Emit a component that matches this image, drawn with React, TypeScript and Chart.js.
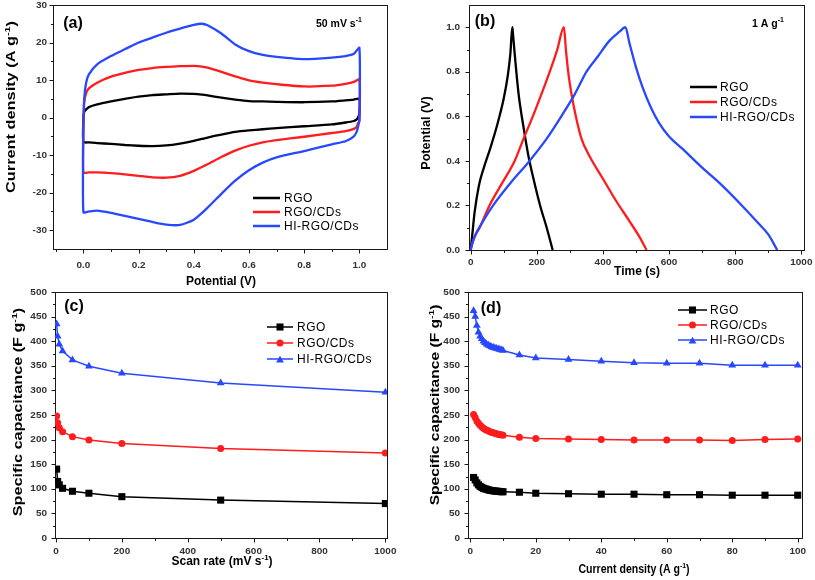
import React, { useEffect, useRef } from 'react';
import { Chart, registerables } from 'chart.js';
Chart.register(...registerables);

const W = 815;
const H = 580;
const FONT = '"Liberation Sans", Arial, Helvetica, sans-serif';
const C_BLACK = '#000000';
const C_RED = '#ff1c1c';
const C_BLUE = '#2848ff';
const seriesNames = ['RGO', 'RGO/CDs', 'HI-RGO/CDs'];

// ---------- (a) CV at 50 mV/s ----------
const cvFwdV = [0, 0.003, 0.01, 0.02, 0.05, 0.1, 0.15, 0.2, 0.25, 0.3, 0.35, 0.4, 0.43, 0.45, 0.5, 0.55, 0.6, 0.65, 0.7, 0.8, 0.9, 0.95, 0.98, 1.0];
const cvRevV = [1.0, 0.995, 0.99, 0.98, 0.95, 0.9, 0.8, 0.7, 0.65, 0.6, 0.55, 0.5, 0.45, 0.4, 0.35, 0.3, 0.25, 0.2, 0.15, 0.1, 0.05, 0.02, 0.0, 0.0];
const cvRgoFwd = [0, 1.5, 2.2, 2.8, 3.5, 4.3, 5, 5.6, 6, 6.2, 6.4, 6.3, 6.1, 5.9, 5.3, 4.8, 4.4, 4.3, 4.2, 4.1, 4.3, 4.6, 4.8, 5];
const cvRgoRev = [1, 0, -0.5, -0.9, -1.3, -1.8, -2.3, -2.8, -3.1, -3.4, -3.8, -4.5, -5.3, -6.2, -6.9, -7.4, -7.6, -7.5, -7.3, -7.0, -6.8, -6.6, -6.5, 0];
const cvRgoCdFwd = [-1.5, 4, 6.5, 7.8, 9.3, 10.9, 11.9, 12.7, 13.2, 13.5, 13.7, 13.8, 13.6, 13.3, 12.2, 11, 9.9, 9.3, 8.9, 8.3, 8.5, 9, 9.5, 10.2];
const cvRgoCdRev = [-1, -1.5, -2.5, -3, -3.6, -4.1, -5.1, -6, -6.6, -7.5, -8.8, -10.5, -12.4, -14.2, -15.5, -16, -15.9, -15.5, -15.1, -14.8, -14.6, -14.6, -14.6, -1.5];
const cvHiFwd = [-2, 4.9, 9.3, 11.5, 14.2, 16.4, 18.2, 20, 21.3, 22.6, 23.7, 24.7, 25, 24.6, 22.4, 19.5, 17.7, 16.7, 16.2, 15.6, 16, 16.4, 17, 18.6];
const cvHiRev = [-0.5, -2.5, -3.8, -5, -6.3, -7.1, -8.9, -10.6, -12, -14, -16.8, -20.3, -24, -27.2, -28.6, -28.5, -27.8, -27, -26.2, -25.4, -24.8, -25, -25.2, -2];

// ---------- (b) GCD at 1 A/g ----------
const gcdRgoT = [0, 5, 12, 25, 40, 60, 80, 100, 112, 120, 126, 128, 135, 145, 160, 175, 190, 210, 230, 248];
const gcdRgoV = [0, 0.07, 0.17, 0.29, 0.37, 0.46, 0.56, 0.68, 0.78, 0.88, 1.0, 0.97, 0.85, 0.7, 0.55, 0.42, 0.32, 0.2, 0.1, 0];
const gcdRgoCdT = [0, 5, 12, 27, 57, 95, 133, 160, 188, 214, 239, 262, 282, 288, 295, 305, 318, 335, 360, 400, 440, 480, 510, 532];
const gcdRgoCdV = [0, 0.03, 0.06, 0.1, 0.2, 0.3, 0.4, 0.5, 0.6, 0.7, 0.8, 0.9, 1.0, 0.9, 0.8, 0.7, 0.6, 0.5, 0.42, 0.32, 0.22, 0.13, 0.06, 0];
const gcdHiT = [0, 5, 15, 30, 68, 120, 178, 230, 274, 315, 350, 385, 420, 450, 468, 480, 500, 520, 545, 570, 600, 640, 700, 760, 820, 870, 900, 927];
const gcdHiV = [0, 0.03, 0.07, 0.11, 0.2, 0.3, 0.4, 0.5, 0.6, 0.7, 0.8, 0.87, 0.94, 0.98, 1.0, 0.93, 0.82, 0.73, 0.64, 0.57, 0.51, 0.455, 0.37, 0.29, 0.2, 0.12, 0.07, 0];

// ---------- (c) capacitance vs scan rate ----------
const scanRates = [2, 5, 10, 20, 50, 100, 200, 500, 1000];
const capRgoScan = [140, 115, 108, 101, 95, 91, 84, 77, 70];
const capRgoCdScan = [248, 234, 224, 216, 206, 199, 192, 182, 173];
const capHiScan = [435, 410, 394, 380, 362, 349, 335, 315, 296];

// ---------- (d) capacitance vs current density ----------
const currentDensities = [1, 1.5, 2, 2.5, 3, 3.5, 4, 4.5, 5, 5.5, 6, 6.5, 7, 7.5, 8, 8.5, 9, 9.5, 10, 15, 20, 30, 40, 50, 60, 70, 80, 90, 100];
const capRgoCur = [123, 118, 112, 108, 105, 103, 101, 100, 99, 98, 97, 96.5, 96, 95.5, 95, 95, 94.5, 94, 94, 93, 91, 90, 89, 89, 88, 88, 87, 87, 87];
const capRgoCdCur = [251, 245, 238, 233, 229, 226, 223, 221, 219, 218, 216, 215, 214, 213, 212, 211, 210, 210, 209, 205, 202, 201, 200, 199, 199, 199, 198, 200, 201];
const capHiCur = [462, 450, 432, 418, 410, 405, 400, 397, 394, 392, 390, 388, 387, 386, 385, 384, 383, 382, 381, 372, 366, 363, 359, 356, 355, 355, 351, 351, 351];

// ---------- tick values ----------
const aXMajor = [0, 0.2, 0.4, 0.6, 0.8, 1.0];
const aXMinor = [-0.1, 0.1, 0.3, 0.5, 0.7, 0.9];
const aYMajor = [-30, -20, -10, 0, 10, 20, 30];
const aYMinor = [-25, -15, -5, 5, 15, 25];
const bXMajor = [0, 200, 400, 600, 800, 1000];
const bXMinor = [100, 300, 500, 700, 900];
const bYMajor = [0, 0.2, 0.4, 0.6, 0.8, 1.0];
const bYMinor = [0.1, 0.3, 0.5, 0.7, 0.9];
const cXMajor = [0, 200, 400, 600, 800, 1000];
const cXMinor = [100, 300, 500, 700, 900];
const capYMajor = [0, 50, 100, 150, 200, 250, 300, 350, 400, 450, 500];
const capYMinor = [25, 75, 125, 175, 225, 275, 325, 375, 425, 475];
const dXMajor = [0, 20, 40, 60, 80, 100];
const dXMinor = [10, 30, 50, 70, 90];

type Seg = { t: string; sup?: boolean };

const pts = (xs: number[], ys: number[]) => xs.map((x, i) => ({ x, y: ys[i] }));

function drawRich(ctx: CanvasRenderingContext2D, segs: Seg[], x: number, y: number, size: number, weight: string, align: 'left' | 'center' | 'right', rotate: boolean, stretch: number, color: string) {
  ctx.save();
  ctx.translate(x, y);
  if (rotate) ctx.rotate(-Math.PI / 2);
  ctx.scale(stretch, 1);
  ctx.fillStyle = color;
  ctx.textBaseline = 'middle';
  ctx.textAlign = 'left';
  const supSize = size * 0.66;
  const fontOf = (s: number) => `${weight} ${s}px ${FONT}`;
  let total = 0;
  const widths = segs.map((s) => {
    ctx.font = fontOf(s.sup ? supSize : size);
    const w = ctx.measureText(s.t).width;
    total += w;
    return w;
  });
  let cx = align === 'center' ? -total / 2 : align === 'right' ? -total : 0;
  segs.forEach((s, i) => {
    ctx.font = fontOf(s.sup ? supSize : size);
    ctx.fillText(s.t, cx, s.sup ? -size * 0.36 : 0);
    cx += widths[i];
  });
  ctx.restore();
}

function drawMarker(ctx: CanvasRenderingContext2D, style: string, x: number, y: number, r: number, color: string) {
  ctx.save();
  ctx.fillStyle = color;
  ctx.beginPath();
  if (style === 'rect') {
    const s = r * Math.SQRT1_2;
    ctx.rect(x - s, y - s, 2 * s, 2 * s);
  } else if (style === 'triangle') {
    for (let k = 0; k < 3; k++) {
      const ang = -Math.PI / 2 + (k * 2 * Math.PI) / 3;
      const px = x + Math.cos(ang) * r;
      const py = y + Math.sin(ang) * r + r * 0.25;
      if (k === 0) ctx.moveTo(px, py);
      else ctx.lineTo(px, py);
    }
    ctx.closePath();
  } else {
    ctx.arc(x, y, r, 0, Math.PI * 2);
  }
  ctx.fill();
  ctx.restore();
}

type Panel = {
  id: string;
  area: { left: number; top: number; right: number; bottom: number };
  x: { min: number; max: number; major: number[]; minor: number[]; fmt: (v: number) => string; labelY: number };
  y: { min: number; max: number; major: number[]; minor: number[]; fmt: (v: number) => string; labelX: number };
  xTitle: { segs: Seg[]; x: number; y: number; stretch: number };
  yTitle: { segs: Seg[]; x: number; y: number; stretch: number };
  tag: { t: string; x: number; y: number };
  note?: { segs: Seg[]; x: number; y: number };
  legend: { x0: number; x1: number; tx: number; rows: number[]; markers: boolean; lw: number };
  datasets: any[];
};

const lineDs = (label: string, data: any[], color: string, width: number, order: number, tension: number, monotone: boolean) => ({
  label,
  data,
  borderColor: color,
  backgroundColor: color,
  borderWidth: width,
  pointRadius: 0,
  fill: false,
  tension,
  cubicInterpolationMode: monotone ? 'monotone' : 'default',
  order,
});

const markerDs = (label: string, data: any[], color: string, style: string, radius: number, order: number) => ({
  label,
  data,
  borderColor: color,
  backgroundColor: color,
  borderWidth: 1.5,
  pointStyle: style,
  pointRadius: radius,
  pointBackgroundColor: color,
  pointBorderColor: color,
  pointBorderWidth: 0,
  fill: false,
  tension: 0,
  order,
});

const styles = ['rect', 'circle', 'triangle'];
const radii = [5, 3.5, 4.5];
const colors = [C_BLACK, C_RED, C_BLUE];

const PANELS: Panel[] = [
  {
    id: 'a',
    area: { left: 53, top: 5, right: 387, bottom: 249 },
    x: { min: -0.11, max: 1.1, major: aXMajor, minor: aXMinor, fmt: (v) => v.toFixed(1), labelY: 265 },
    y: { min: -35, max: 30, major: aYMajor, minor: aYMinor, fmt: (v) => String(v), labelX: 47 },
    xTitle: { segs: [{ t: 'Potential (V)' }], x: 221, y: 282, stretch: 1 },
    yTitle: { segs: [{ t: 'Current density (A g' }, { t: '-1', sup: true }, { t: ')' }], x: 12, y: 107, stretch: 1.36 },
    tag: { t: '(a)', x: 73, y: 24 },
    note: { segs: [{ t: '50 mV s' }, { t: '-1', sup: true }], x: 316, y: 24 },
    legend: { x0: 253, x1: 280, tx: 284, rows: [198, 212, 226], markers: false, lw: 2.5 },
    datasets: [
      lineDs(seriesNames[0], [...pts(cvFwdV, cvRgoFwd), ...pts(cvRevV, cvRgoRev)], C_BLACK, 2.3, 2, 0.2, false),
      lineDs(seriesNames[1], [...pts(cvFwdV, cvRgoCdFwd), ...pts(cvRevV, cvRgoCdRev)], C_RED, 2.3, 1, 0.2, false),
      lineDs(seriesNames[2], [...pts(cvFwdV, cvHiFwd), ...pts(cvRevV, cvHiRev)], C_BLUE, 2.3, 0, 0.2, false),
    ],
  },
  {
    id: 'b',
    area: { left: 469, top: 5, right: 804, bottom: 250 },
    x: { min: -5, max: 1008, major: bXMajor, minor: bXMinor, fmt: (v) => String(v), labelY: 262 },
    y: { min: 0, max: 1.1, major: bYMajor, minor: bYMinor, fmt: (v) => v.toFixed(1), labelX: 460 },
    xTitle: { segs: [{ t: 'Time (s)' }], x: 637, y: 272, stretch: 1 },
    yTitle: { segs: [{ t: 'Potential (V)' }], x: 427, y: 133, stretch: 1.05 },
    tag: { t: '(b)', x: 485, y: 22 },
    note: { segs: [{ t: '1 A g' }, { t: '-1', sup: true }], x: 752, y: 24 },
    legend: { x0: 690, x1: 717, tx: 720, rows: [87, 102, 117], markers: false, lw: 2.5 },
    datasets: [
      lineDs(seriesNames[0], pts(gcdRgoT, gcdRgoV), C_BLACK, 2.3, 2, 0.4, true),
      lineDs(seriesNames[1], pts(gcdRgoCdT, gcdRgoCdV), C_RED, 2.3, 1, 0.4, true),
      lineDs(seriesNames[2], pts(gcdHiT, gcdHiV), C_BLUE, 2.3, 0, 0.4, true),
    ],
  },
  {
    id: 'c',
    area: { left: 55, top: 292, right: 387, bottom: 538 },
    x: { min: -3, max: 1005, major: cXMajor, minor: cXMinor, fmt: (v) => String(v), labelY: 551 },
    y: { min: 0, max: 500, major: capYMajor, minor: capYMinor, fmt: (v) => String(v), labelX: 47 },
    xTitle: { segs: [{ t: 'Scan rate (mV s' }, { t: '-1', sup: true }, { t: ')' }], x: 222, y: 562, stretch: 1 },
    yTitle: { segs: [{ t: 'Specific capacitance (F g' }, { t: '-1', sup: true }, { t: ')' }], x: 19, y: 412, stretch: 1.35 },
    tag: { t: '(c)', x: 74, y: 307 },
    legend: { x0: 267, x1: 293, tx: 297, rows: [327, 343, 359], markers: true, lw: 1.5 },
    datasets: [
      markerDs(seriesNames[0], pts(scanRates, capRgoScan), C_BLACK, 'rect', 5, 2),
      markerDs(seriesNames[1], pts(scanRates, capRgoCdScan), C_RED, 'circle', 3.5, 1),
      markerDs(seriesNames[2], pts(scanRates, capHiScan), C_BLUE, 'triangle', 4.5, 0),
    ],
  },
  {
    id: 'd',
    area: { left: 468, top: 292, right: 802, bottom: 538 },
    x: { min: -0.7, max: 101.3, major: dXMajor, minor: dXMinor, fmt: (v) => String(v), labelY: 551 },
    y: { min: 0, max: 500, major: capYMajor, minor: capYMinor, fmt: (v) => String(v), labelX: 460 },
    xTitle: { segs: [{ t: 'Current density (A g' }, { t: '-1', sup: true }, { t: ')' }], x: 634, y: 570, stretch: 0.88 },
    yTitle: { segs: [{ t: 'Specific capacitance (F g' }, { t: '-1', sup: true }, { t: ')' }], x: 436, y: 405, stretch: 1.3 },
    tag: { t: '(d)', x: 491, y: 309 },
    legend: { x0: 678, x1: 707, tx: 710, rows: [310, 325, 340], markers: true, lw: 1.5 },
    datasets: [
      markerDs(seriesNames[0], pts(currentDensities, capRgoCur), C_BLACK, 'rect', 5, 2),
      markerDs(seriesNames[1], pts(currentDensities, capRgoCdCur), C_RED, 'circle', 3.5, 1),
      markerDs(seriesNames[2], pts(currentDensities, capHiCur), C_BLUE, 'triangle', 4.5, 0),
    ],
  },
];

function decoPlugin(p: Panel) {
  return {
    id: 'deco_' + p.id,
    beforeDatasetsDraw(chart: any) {
      const ctx: CanvasRenderingContext2D = chart.ctx;
      const a = chart.chartArea;
      const xs = chart.scales.x;
      const ys = chart.scales.y;
      ctx.save();
      ctx.strokeStyle = '#1a1a1a';
      ctx.lineWidth = 1;
      ctx.strokeRect(Math.round(a.left) + 0.5, Math.round(a.top) + 0.5, Math.round(a.right - a.left), Math.round(a.bottom - a.top));
      const bottom = Math.round(a.bottom) + 0.5;
      const left = Math.round(a.left) + 0.5;
      ctx.beginPath();
      p.x.major.forEach((v) => {
        const px = Math.round(xs.getPixelForValue(v)) + 0.5;
        ctx.moveTo(px, bottom);
        ctx.lineTo(px, bottom + 4);
      });
      p.x.minor.forEach((v) => {
        const px = Math.round(xs.getPixelForValue(v)) + 0.5;
        ctx.moveTo(px, bottom);
        ctx.lineTo(px, bottom + 2.5);
      });
      p.y.major.forEach((v) => {
        const py = Math.round(ys.getPixelForValue(v)) + 0.5;
        ctx.moveTo(left, py);
        ctx.lineTo(left - 4, py);
      });
      p.y.minor.forEach((v) => {
        const py = Math.round(ys.getPixelForValue(v)) + 0.5;
        ctx.moveTo(left, py);
        ctx.lineTo(left - 2.5, py);
      });
      ctx.stroke();
      ctx.restore();
    },
    afterDraw(chart: any) {
      const ctx: CanvasRenderingContext2D = chart.ctx;
      const xs = chart.scales.x;
      const ys = chart.scales.y;
      const tickColor = '#333333';
      p.x.major.forEach((v) => {
        drawRich(ctx, [{ t: p.x.fmt(v) }], xs.getPixelForValue(v), p.x.labelY, 9.5, 'bold', 'center', false, 1.05, tickColor);
      });
      p.y.major.forEach((v) => {
        drawRich(ctx, [{ t: p.y.fmt(v) }], p.y.labelX, ys.getPixelForValue(v), 9.5, 'bold', 'right', false, 1.05, tickColor);
      });
      drawRich(ctx, p.xTitle.segs, p.xTitle.x, p.xTitle.y, 12, 'bold', 'center', false, p.xTitle.stretch, '#000');
      drawRich(ctx, p.yTitle.segs, p.yTitle.x, p.yTitle.y, 12, 'bold', 'center', true, p.yTitle.stretch, '#000');
      drawRich(ctx, [{ t: p.tag.t }], p.tag.x, p.tag.y, 16, 'bold', 'center', false, 1, '#000');
      if (p.note) drawRich(ctx, p.note.segs, p.note.x, p.note.y, 10.5, 'bold', 'left', false, 1, '#000');
      const L = p.legend;
      chart.data.datasets.forEach((ds: any, i: number) => {
        const y = L.rows[i];
        ctx.save();
        ctx.strokeStyle = ds.borderColor;
        ctx.lineWidth = L.lw;
        ctx.beginPath();
        ctx.moveTo(L.x0, y);
        ctx.lineTo(L.x1, y);
        ctx.stroke();
        ctx.restore();
        if (L.markers) drawMarker(ctx, styles[i], (L.x0 + L.x1) / 2, y, radii[i], colors[i]);
        ctx.save();
        (ctx as any).letterSpacing = '0.5px';
        ctx.font = `normal 12px ${FONT}`;
        ctx.fillStyle = '#000';
        ctx.textBaseline = 'middle';
        ctx.textAlign = 'left';
        ctx.fillText(ds.label, L.tx, y + 0.5);
        ctx.restore();
      });
    },
  };
}

function makeChart(canvas: HTMLCanvasElement, p: Panel) {
  return new Chart(canvas, {
    type: 'line',
    data: { datasets: p.datasets },
    options: {
      animation: false,
      responsive: false,
      maintainAspectRatio: false,
      events: [],
      layout: {
        padding: { left: p.area.left, top: p.area.top, right: W - p.area.right, bottom: H - p.area.bottom },
      },
      scales: {
        x: { type: 'linear', display: false, min: p.x.min, max: p.x.max },
        y: { type: 'linear', display: false, min: p.y.min, max: p.y.max },
      },
      plugins: { legend: { display: false }, tooltip: { enabled: false }, title: { display: false } },
    } as any,
    plugins: [decoPlugin(p) as any],
  });
}

export default function App() {
  const r0 = useRef<HTMLCanvasElement>(null);
  const r1 = useRef<HTMLCanvasElement>(null);
  const r2 = useRef<HTMLCanvasElement>(null);
  const r3 = useRef<HTMLCanvasElement>(null);
  const refs = [r0, r1, r2, r3];
  useEffect(() => {
    const charts = PANELS.map((p, i) => makeChart(refs[i].current as HTMLCanvasElement, p));
    return () => charts.forEach((c) => c.destroy());
  }, []);
  return (
    <div style={{ position: 'fixed', left: 0, top: 0, width: W, height: H, background: '#ffffff', overflow: 'hidden' }}>
      {PANELS.map((p, i) => (
        <canvas
          key={p.id}
          ref={refs[i]}
          width={W}
          height={H}
          style={{ position: 'absolute', left: 0, top: 0, width: W, height: H }}
        />
      ))}
    </div>
  );
}
